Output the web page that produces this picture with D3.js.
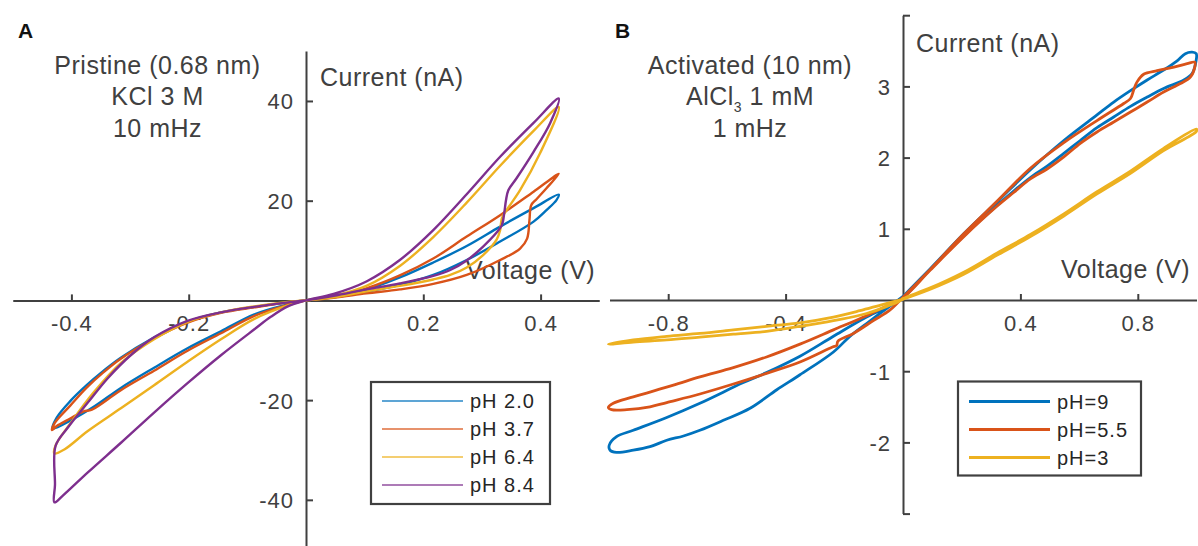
<!DOCTYPE html>
<html><head><meta charset="utf-8">
<script src="https://cdn.jsdelivr.net/npm/d3@7"></script>
<style>html,body{margin:0;padding:0;background:#fff;} svg{display:block;font-family:"Liberation Sans",Arial,Helvetica,sans-serif;}</style>
</head><body><svg id="c" width="1198" height="546"></svg>
<script>
// ---------- Panel A data: Pristine (0.68 nm), KCl 3 M, 10 mHz ----------
const seriesA = ["pH 2.0", "pH 3.7", "pH 6.4", "pH 8.4"];
const pH20 = [[0,0],[0.047,0.6],[0.103,1.7],[0.160,3.1],[0.217,5.1],[0.274,8.1],[0.331,11.8],[0.388,15.8],[0.410,18.1],[0.427,20.1],[0.431,21.2],
  [0.388,18.5],[0.331,14.8],[0.274,10.9],[0.217,7.6],[0.160,4.6],[0.103,2.2],[0.047,0.9],[0,0],
  [-0.031,-0.8],[-0.088,-2.8],[-0.145,-6.2],[-0.202,-9.6],[-0.259,-13.5],[-0.315,-17.5],[-0.360,-21.2],[-0.400,-24.0],[-0.432,-25.7],
  [-0.425,-23.5],[-0.402,-20.2],[-0.374,-17.0],[-0.346,-14.2],[-0.317,-11.6],[-0.260,-7.5],[-0.203,-4.3],[-0.145,-2.4],[-0.088,-1.3],[-0.031,-0.4],[0,0]];
const pH37 = [[0,0],[0.047,0.5],[0.103,1.4],[0.160,2.2],[0.217,3.3],[0.274,5.1],[0.331,8.1],[0.365,10.4],[0.377,12.4],[0.381,16.1],[0.384,19.1],[0.393,20.3],[0.410,22.5],[0.431,25.4],
  [0.388,21.8],[0.331,17.1],[0.274,12.8],[0.217,8.4],[0.160,5.0],[0.103,2.4],[0.047,0.7],[0,0],
  [-0.031,-0.9],[-0.088,-3.1],[-0.145,-6.6],[-0.202,-10.1],[-0.259,-14.1],[-0.317,-18.1],[-0.365,-21.9],[-0.380,-22.3],[-0.402,-23.7],[-0.425,-25.2],[-0.433,-26.0],
  [-0.428,-24.5],[-0.402,-21.1],[-0.374,-17.5],[-0.346,-14.5],[-0.317,-11.8],[-0.260,-7.7],[-0.203,-4.5],[-0.145,-2.5],[-0.088,-1.4],[-0.031,-0.4],[0,0]];
const pH64 = [[0,0],[0.047,0.6],[0.103,1.8],[0.160,2.9],[0.217,4.2],[0.246,5.1],[0.274,6.6],[0.302,9.1],[0.325,12.2],[0.331,14.1],[0.334,16.5],[0.342,18.1],[0.365,22.1],[0.399,29.5],[0.431,38.8],
  [0.388,34.0],[0.331,27.0],[0.274,19.6],[0.217,12.7],[0.160,6.9],[0.103,2.9],[0.047,0.9],[0,0],
  [-0.031,-1.0],[-0.088,-3.7],[-0.145,-7.8],[-0.202,-12.3],[-0.259,-17.0],[-0.315,-21.6],[-0.372,-26.2],[-0.412,-29.9],[-0.429,-30.7],
  [-0.427,-29.1],[-0.400,-24.4],[-0.363,-18.6],[-0.315,-12.5],[-0.259,-7.8],[-0.202,-4.3],[-0.145,-2.4],[-0.088,-1.2],[-0.031,-0.3],[0,0]];
const pH84 = [[0,0],[0.047,0.9],[0.103,2.2],[0.160,3.4],[0.217,4.9],[0.246,6.1],[0.274,8.0],[0.302,10.8],[0.325,13.6],[0.334,15.1],[0.338,17.5],[0.341,20.1],[0.345,22.1],[0.359,24.5],[0.388,29.8],[0.416,35.5],[0.431,40.5],
  [0.388,35.6],[0.331,28.8],[0.274,21.3],[0.217,14.1],[0.160,8.1],[0.103,3.8],[0.047,1.3],[0,0],
  [-0.031,-1.2],[-0.060,-3.3],[-0.088,-5.8],[-0.145,-11.0],[-0.202,-16.6],[-0.259,-22.5],[-0.315,-28.5],[-0.372,-34.5],[-0.415,-39.2],[-0.429,-40.5],
  [-0.428,-37.0],[-0.427,-29.2],[-0.406,-25.5],[-0.372,-20.5],[-0.338,-15.6],[-0.298,-10.9],[-0.259,-7.4],[-0.202,-4.1],[-0.145,-2.4],[-0.088,-1.3],[-0.031,-0.4],[0,0]];
const xTicksA = [-0.4, -0.2, 0.2, 0.4];
const yTicksA = [-40, -20, 20, 40];

// ---------- Panel B data: Activated (10 nm), AlCl3 1 mM, 1 mHz ----------
const seriesB = ["pH=9", "pH=5.5", "pH=3"];
const pH9 = [[0,0.05],[0.093,0.44],[0.207,0.93],[0.321,1.38],[0.434,1.83],[0.548,2.24],[0.661,2.60],[0.718,2.78],[0.775,2.94],[0.832,3.09],[0.888,3.23],[0.934,3.36],[0.962,3.46],[0.985,3.48],[0.999,3.46],
  [0.999,3.37],[0.985,3.18],[0.957,3.09],[0.888,2.97],[0.832,2.85],[0.775,2.72],[0.718,2.57],[0.661,2.42],[0.604,2.24],[0.548,2.06],[0.491,1.88],[0.434,1.72],[0.377,1.53],[0.321,1.33],[0.207,0.90],[0.093,0.43],[0,0.03],
  [-0.033,-0.06],[-0.124,-0.24],[-0.237,-0.51],[-0.351,-0.79],[-0.465,-1.02],[-0.544,-1.16],[-0.692,-1.45],[-0.805,-1.65],[-0.919,-1.83],[-0.976,-1.92],[-1.001,-2.04],
  [-0.998,-2.11],[-0.976,-2.14],[-0.919,-2.11],[-0.862,-2.06],[-0.805,-1.97],[-0.748,-1.91],[-0.692,-1.83],[-0.612,-1.69],[-0.521,-1.52],[-0.430,-1.26],[-0.351,-1.05],[-0.237,-0.73],[-0.181,-0.51],[-0.124,-0.33],[-0.056,-0.12],[0,0.05]];
const pH55 = [[0,0.04],[0.093,0.43],[0.207,0.93],[0.321,1.39],[0.434,1.85],[0.548,2.21],[0.661,2.52],[0.752,2.76],[0.775,2.83],[0.786,2.95],[0.797,3.06],[0.820,3.17],[0.866,3.22],[0.923,3.27],[0.968,3.32],[0.994,3.34],
  [0.994,3.27],[0.979,3.13],[0.945,3.04],[0.888,2.92],[0.832,2.78],[0.775,2.64],[0.718,2.50],[0.661,2.36],[0.604,2.20],[0.548,2.01],[0.491,1.84],[0.434,1.70],[0.377,1.51],[0.321,1.32],[0.207,0.89],[0.093,0.42],[0,0.03],
  [-0.033,-0.04],[-0.124,-0.22],[-0.237,-0.42],[-0.351,-0.62],[-0.465,-0.80],[-0.578,-0.95],[-0.692,-1.08],[-0.785,-1.20],[-0.919,-1.36],[-0.987,-1.45],[-1.004,-1.51],
  [-0.993,-1.54],[-0.941,-1.54],[-0.862,-1.50],[-0.805,-1.44],[-0.692,-1.32],[-0.578,-1.18],[-0.465,-1.03],[-0.351,-0.87],[-0.240,-0.66],[-0.226,-0.64],[-0.222,-0.58],[-0.169,-0.47],[-0.101,-0.29],[-0.044,-0.14],[0,0.04]];
const pH3 = [[0,0.01],[0.093,0.15],[0.207,0.36],[0.321,0.63],[0.434,0.89],[0.548,1.18],[0.661,1.49],[0.775,1.78],[0.888,2.10],[1.0,2.37],
  [1.0,2.40],[0.888,2.13],[0.775,1.81],[0.661,1.52],[0.548,1.21],[0.434,0.92],[0.321,0.66],[0.207,0.39],[0.093,0.17],[0,0.02],
  [-0.010,-0.01],[-0.124,-0.19],[-0.237,-0.29],[-0.351,-0.37],[-0.465,-0.44],[-0.578,-0.48],[-0.692,-0.52],[-0.805,-0.56],[-0.919,-0.59],[-1.004,-0.62],
  [-0.919,-0.56],[-0.805,-0.51],[-0.692,-0.47],[-0.578,-0.42],[-0.465,-0.37],[-0.351,-0.32],[-0.237,-0.24],[-0.147,-0.15],[-0.067,-0.06],[0,0.01]];
const xTicksB = [-0.8, -0.4, 0.4, 0.8];
const yTicksB = [-3, -2, -1, 1, 2, 3, 4];
const yLabelsB = [-2, -1, 1, 2, 3];

const colors = ["#0072BD", "#D95319", "#EDB120", "#7E2F8E"];
const AX = "#404040";

const svg = d3.select("#c");

function panel(opts) {
  const {x, y, xTicks, yTicks, yLabels, data, names, lw, legend, letter, letterX, title, titleX, curX, curY, volX, volY, sub} = opts;
  const g = svg.append("g");
  const xa = g.append("g").attr("transform", `translate(0,${y(0)})`)
    .call(d3.axisBottom(x).tickValues(xTicks).tickSize(-6).tickSizeOuter(0).tickPadding(15).tickFormat(d => String(d)));
  const ya = g.append("g").attr("transform", `translate(${x(0)},0)`)
    .call(d3.axisLeft(y).tickValues(yTicks).tickSize(-7).tickSizeOuter(0).tickPadding(12)
      .tickFormat(d => yLabels.includes(d) ? String(d) : ""));
  [xa, ya].forEach(a => {
    a.select(".domain").attr("stroke", AX).attr("stroke-width", 2);
    a.selectAll(".tick line").attr("stroke", AX).attr("stroke-width", 2);
    a.selectAll(".tick text").attr("fill", AX).attr("font-size", 22).attr("letter-spacing", 1)
      .attr("font-family", '"Liberation Sans",Arial,Helvetica,sans-serif');
  });
  ya.selectAll(".tick text").attr("dy", "0.36em");

  g.append("text").attr("x", letterX).attr("y", 38).attr("font-size", 21).attr("font-weight", "bold").attr("fill", "#111").text(letter);
  const t = g.append("text").attr("text-anchor", "middle").attr("fill", AX).attr("font-size", 25).attr("letter-spacing", 0.5);
  title.forEach((line, i) => {
    const ts = t.append("tspan").attr("x", titleX).attr("y", [74, 105, 137][i]);
    if (sub && i === sub.line) {
      ts.text(sub.pre);
      ts.append("tspan").attr("font-size", 14).attr("dy", 7).text(sub.sub);
      ts.append("tspan").attr("dy", -7).text(sub.post);
    } else ts.text(line);
  });
  g.append("text").attr("x", curX).attr("y", curY).attr("fill", AX).attr("font-size", 25).attr("letter-spacing", 0.5).text("Current (nA)");
  g.append("text").attr("x", volX).attr("y", volY).attr("fill", AX).attr("font-size", 25).attr("letter-spacing", 0.5).text("Voltage (V)");

  const line = d3.line().x(d => x(d[0])).y(d => y(d[1])).curve(d3.curveCatmullRom.alpha(0.5));
  data.forEach((d, i) => {
    g.append("path").attr("d", line(d)).attr("fill", "none").attr("stroke", colors[i])
      .attr("stroke-width", lw).attr("stroke-linejoin", "round").attr("stroke-linecap", "round");
  });

  const L = g.append("g");
  L.append("rect").attr("x", legend.x0).attr("y", legend.y0).attr("width", legend.x1 - legend.x0).attr("height", legend.y1 - legend.y0)
    .attr("fill", "#fff").attr("stroke", AX).attr("stroke-width", 2.2);
  names.forEach((n, i) => {
    const yy = legend.rows[i];
    L.append("line").attr("x1", legend.lx0).attr("x2", legend.lx1).attr("y1", yy).attr("y2", yy)
      .attr("stroke", colors[i]).attr("stroke-width", legend.lw).attr("stroke-opacity", legend.op);
    L.append("text").attr("x", legend.tx).attr("y", yy).attr("dy", "0.36em").attr("font-size", 20).attr("letter-spacing", 1)
      .attr("fill", "#262626").text(n);
  });
}

const xA = d3.scaleLinear().domain([-0.5, 0.5]).range([12.75, 599.25]);
const yA = d3.scaleLinear().domain([-50, 50]).range([549.7, 51.1]);
const xB = d3.scaleLinear().domain([-1, 1]).range([609.5, 1196.5]);
const yB = d3.scaleLinear().domain([-3, 4]).range([513.6, 15.2]);

panel({x: xA, y: yA, xTicks: xTicksA, yTicks: yTicksA, yLabels: yTicksA, data: [pH20, pH37, pH64, pH84], names: seriesA, lw: 2.4,
  legend: {x0: 371, y0: 382, x1: 550, y1: 504, rows: [401, 429, 457, 485], lx0: 382, lx1: 463, tx: 470, lw: 1.6, op: 0.85},
  letter: "A", letterX: 18, title: ["Pristine (0.68 nm)", "KCl 3 M", "10 mHz"], titleX: 157.5,
  curX: 320, curY: 86, volX: 466, volY: 279});

panel({x: xB, y: yB, xTicks: xTicksB, yTicks: yTicksB, yLabels: yLabelsB, data: [pH9, pH55, pH3], names: seriesB, lw: 2.8,
  legend: {x0: 958, y0: 381.5, x1: 1141, y1: 475.5, rows: [401.5, 429.5, 457.5], lx0: 969, lx1: 1050, tx: 1057, lw: 2.8, op: 1},
  letter: "B", letterX: 615, title: ["Activated (10 nm)", "AlCl3 1 mM", "1 mHz"], titleX: 750,
  sub: {line: 1, pre: "AlCl", sub: "3", post: " 1 mM"},
  curX: 916, curY: 52, volX: 1061, volY: 278});
</script></body></html>
